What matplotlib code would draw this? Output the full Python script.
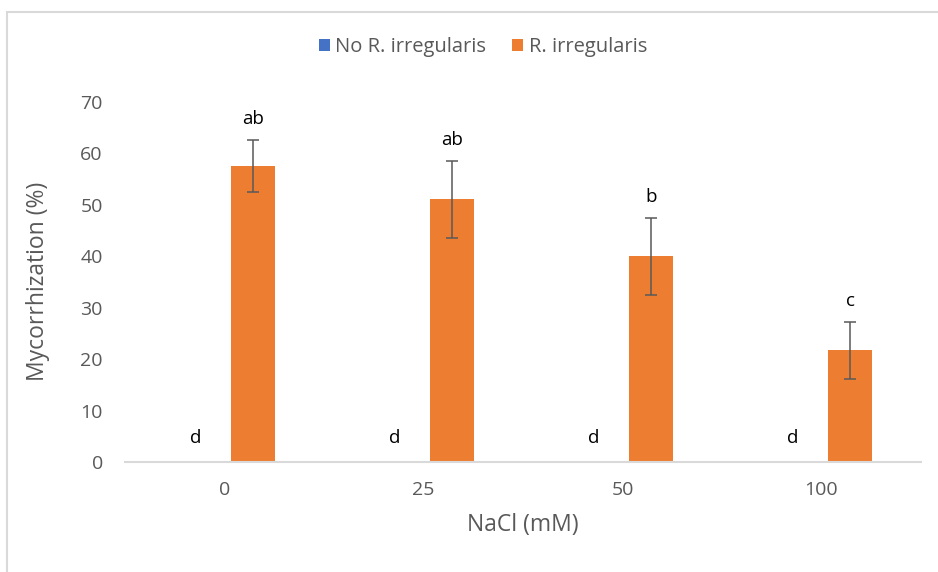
import matplotlib
matplotlib.use("Agg")
import matplotlib.pyplot as plt
from matplotlib.patches import Rectangle
import numpy as np

# data
nacl_levels = ["0", "25", "50", "100"]
no_irregularis = [0, 0, 0, 0]
no_irregularis_err = [0, 0, 0, 0]
with_irregularis = [57.5, 51.0, 40.0, 21.7]
with_irregularis_err = [5.0, 7.5, 7.5, 5.5]
letters_no = ["d", "d", "d", "d"]
letters_with = ["ab", "ab", "b", "c"]

blue = "#4472c4"
orange = "#ed7d31"
grey_text = "#595959"
axis_grey = "#d9d9d9"

plt.rcParams['font.family'] = ['Open Sans', 'DejaVu Sans']

fig = plt.figure(figsize=(9.38, 5.72), dpi=100)
ax = fig.add_axes([125 / 938, 1 - 462 / 572, 796 / 938, (462 - 101.7) / 572])

x = np.arange(len(nacl_levels))
width = 0.221
offset = 0.145

ax.bar(x - offset, no_irregularis, width, color=blue, label="No R. irregularis")
ax.bar(x + offset, with_irregularis, width, color=orange, label="R. irregularis")
ax.errorbar(x + offset, with_irregularis, yerr=with_irregularis_err, fmt="none",
            ecolor=grey_text, elinewidth=1.1, capsize=4, capthick=1.1)

for xi, v, e, t in zip(x - offset, no_irregularis, no_irregularis_err, letters_no):
    ax.annotate(t, (xi, v + e), xytext=(0, 17), textcoords="offset points",
                ha="center", va="center", fontsize=13.5, color="black")
for xi, v, e, t in zip(x + offset, with_irregularis, with_irregularis_err, letters_with):
    ax.annotate(t, (xi, v + e), xytext=(0, 15), textcoords="offset points",
                ha="center", va="center", fontsize=13.5, color="black")

ax.set_xlim(-0.5, len(nacl_levels) - 0.5)
ax.set_ylim(0, 70)
ax.set_yticks(range(0, 71, 10))
ax.set_xticks(x)
ax.set_xticklabels(nacl_levels)

for side in ["top", "right", "left"]:
    ax.spines[side].set_visible(False)
ax.spines["bottom"].set_color(axis_grey)
ax.spines["bottom"].set_linewidth(1.5)
ax.tick_params(axis="both", length=0, labelsize=14, colors=grey_text)
ax.tick_params(axis="y", pad=16)
ax.tick_params(axis="x", pad=14)

ax.set_xlabel("NaCl (mM)", fontsize=16.5, color=grey_text, labelpad=10)
ax.set_ylabel("Mycorrhization (%)", fontsize=16.5, color=grey_text, labelpad=22)

fig.legend(loc="center", bbox_to_anchor=(483 / 938, 1 - 47 / 572), ncol=2,
           frameon=False, fontsize=14.5, labelcolor=grey_text,
           handlelength=0.55, handleheight=0.55, handletextpad=0.25, columnspacing=1.3)

# outer chart frame
fig.patches.append(Rectangle((7 / 938, -0.1), 1.2, 1 - 12 / 572 + 0.1,
                             transform=fig.transFigure, fill=False,
                             edgecolor=axis_grey, linewidth=1.5))

fig.savefig("out.png", dpi=100)
